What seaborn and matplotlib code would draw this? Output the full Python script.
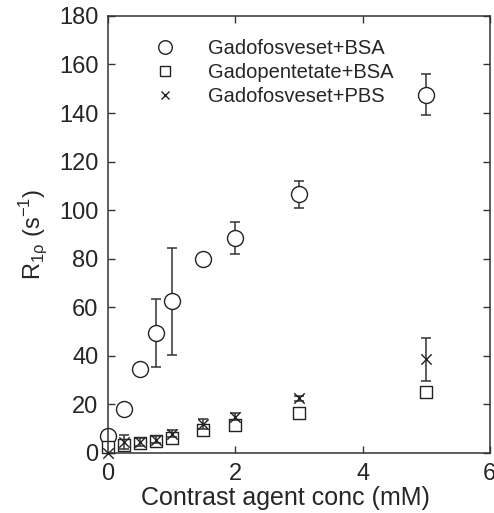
import numpy as np
import pandas as pd
import matplotlib
matplotlib.use("Agg")
import matplotlib.pyplot as plt
import seaborn as sns

# data
conc = [0, 0.25, 0.5, 0.75, 1.0, 1.5, 2.0, 3.0, 5.0]
fos_bsa = [7, 18, 34.5, 49.5, 62.5, 80, 88.5, 106.5, 147.5]
fos_bsa_err = [0, 0, 0, 14, 22, 0, 6.5, 5.5, 8.5]
pent_bsa = [2.5, 3.3, 4, 5, 6, 9.5, 11.5, 16.5, 25]
pent_bsa_err = [0, 0, 0, 0, 0, 0, 0, 0, 0]
fos_pbs = [0, 4.5, 4.5, 5.5, 8, 12, 15, 22.5, 38.5]
fos_pbs_err = [0, 2.8, 1.5, 1.5, 1.5, 2, 1.5, 1, 9]

labels = ["Gadofosveset+BSA", "Gadopentetate+BSA", "Gadofosveset+PBS"]

sns.set_style("ticks")
plt.rcParams['font.family'] = ['Liberation Sans', 'DejaVu Sans']
plt.rcParams['mathtext.fontset'] = 'custom'
plt.rcParams['mathtext.rm'] = 'Liberation Sans'

fig = plt.figure(figsize=(4.94, 5.13), dpi=100)
ax = fig.add_axes([0.2186, 0.117, 0.773, 0.852])

series = [
    (fos_bsa, fos_bsa_err, "o", 11.5, 1),
    (pent_bsa, pent_bsa_err, "s", 8.5, 2),
    (fos_pbs, fos_pbs_err, "x", 7.5, 3),
]

handles = []
for (vals, errs, mk, ms, z), lab in zip(series, labels):
    df = pd.DataFrame({"x": conc, "y": vals, "e": errs})
    sub = df[df["e"] > 0]
    if len(sub):
        ax.errorbar(sub["x"], sub["y"], yerr=sub["e"], fmt="none", ecolor="#333333",
                    elinewidth=1.1, capsize=3.5, capthick=1.1, zorder=z)
    mc = "white" if mk != "x" else "#222222"
    sns.scatterplot(data=df, x="x", y="y", marker=mk, s=ms ** 2, facecolor=mc,
                    edgecolor="#222222", linewidth=1.0, ax=ax, zorder=z + 0.5)
    h, = ax.plot([], [], linestyle="none", marker=mk, markersize=ms * 0.85,
                 markerfacecolor="white", markeredgecolor="#222222", markeredgewidth=1.0,
                 color="#222222")
    handles.append(h)

ax.set_xlim(0, 6)
ax.set_ylim(0, 180)
ax.set_xticks([0, 2, 4, 6])
ax.set_yticks(np.arange(0, 181, 20))
ax.tick_params(direction="in", length=5, width=1, labelsize=17, top=True, right=True,
               color="#333333", pad=7)
for sp in ax.spines.values():
    sp.set_visible(True)
    sp.set_linewidth(1.1)
    sp.set_color("#333333")
ax.set_xlabel("Contrast agent conc (mM)", fontsize=18, labelpad=1)
ax.xaxis.label.set_x(0.465)
ax.set_ylabel(r"R$_{\mathrm{1ρ}}$ (s$^{\mathrm{-1}}$)", fontsize=17, labelpad=6)
ax.legend(handles, labels, loc="upper left", frameon=False, fontsize=14.5,
          bbox_to_anchor=(0.05, 0.988), handletextpad=1.1, labelspacing=0.25)
for c in ax.collections:
    c.set_clip_on(False)
for l in ax.lines:
    l.set_clip_on(False)

fig.savefig("out.png", dpi=100)
